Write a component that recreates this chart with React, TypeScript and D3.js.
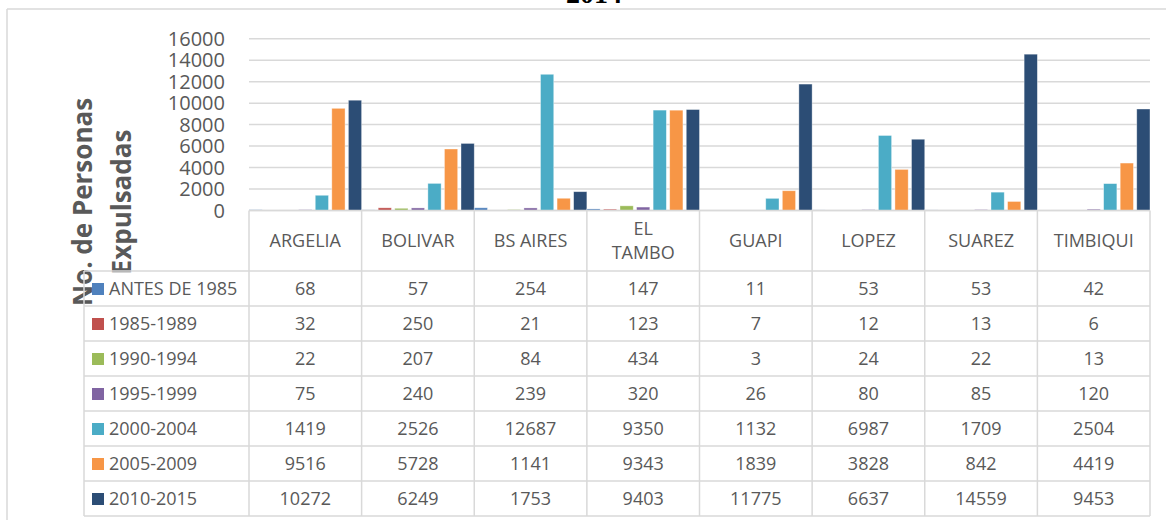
import React from "react";
import * as d3 from "d3";

const categories = ["ARGELIA", "BOLIVAR", "BS AIRES", "EL TAMBO", "GUAPI", "LOPEZ", "SUAREZ", "TIMBIQUI"];
const seriesNames = ["ANTES DE 1985", "1985-1989", "1990-1994", "1995-1999", "2000-2004", "2005-2009", "2010-2015"];
const antes1985 = [68, 57, 254, 147, 11, 53, 53, 42];
const s1985_1989 = [32, 250, 21, 123, 7, 12, 13, 6];
const s1990_1994 = [22, 207, 84, 434, 3, 24, 22, 13];
const s1995_1999 = [75, 240, 239, 320, 26, 80, 85, 120];
const s2000_2004 = [1419, 2526, 12687, 9350, 1132, 6987, 1709, 2504];
const s2005_2009 = [9516, 5728, 1141, 9343, 1839, 3828, 842, 4419];
const s2010_2015 = [10272, 6249, 1753, 9403, 11775, 6637, 14559, 9453];
const seriesColors = ["#4F81BD", "#C0504D", "#9BBB59", "#8064A2", "#4BACC6", "#F79646", "#2C4D75"];
const yTicks = [0, 2000, 4000, 6000, 8000, 10000, 12000, 14000, 16000];
const titleText = "2014";
const yTitleLines = ["No. de Personas", "Expulsadas"];

const seriesValues = [antes1985, s1985_1989, s1990_1994, s1995_1999, s2000_2004, s2005_2009, s2010_2015];

const W = 1166;
const H = 520;
const plotLeft = 249;
const plotRight = 1150;
const plotTop = 38.7;
const plotBottom = 210.5;
const legendLeft = 84;
const headerBottom = 271;
const rowH = 35;
const grid = "#D9D9D9";
const txt = "#595959";
const font = "'Open Sans', sans-serif";

export default function App() {
  const x = d3.scaleBand<string>().domain(categories).range([plotLeft, plotRight]).padding(0);
  const xs = d3
    .scaleBand<string>()
    .domain(seriesNames)
    .range([0, x.bandwidth()])
    .paddingInner(0.2)
    .paddingOuter(0);
  const y = d3.scaleLinear().domain([0, 16000]).range([plotBottom, plotTop]);
  const tableBottom = headerBottom + rowH * seriesNames.length;
  const headerLines = (c: string) => (c === "EL TAMBO" ? c.split(" ") : [c]);

  return (
    <svg
      width={W}
      height={H}
      style={{ position: "absolute", left: 0, top: 0, background: "#fff" }}
      fontFamily={font}
    >
      <rect x={0} y={0} width={W} height={H} fill="#fff" />
      {/* chart frame */}
      <line x1={7} y1={9} x2={W} y2={9} stroke={grid} strokeWidth={1.5} />
      <line x1={7} y1={9} x2={7} y2={H} stroke={grid} strokeWidth={1.5} />
      {/* title (cut off) */}
      <text
        x={594}
        y={3}
        textAnchor="middle"
        fontFamily="'Liberation Serif', serif"
        fontWeight="bold"
        fontSize={28}
        fill="#000"
      >
        {titleText}
      </text>
      {/* gridlines */}
      {yTicks.map((t) => (
        <line key={t} x1={plotLeft} x2={plotRight} y1={y(t)} y2={y(t)} stroke={grid} strokeWidth={1.5} />
      ))}
      {/* y tick labels */}
      {yTicks.map((t) => (
        <text key={"l" + t} x={225} y={y(t)} dy="0.35em" textAnchor="end" fontSize={20} fill={txt}>
          {t}
        </text>
      ))}
      {/* y title */}
      <g transform="translate(0,202)">
        {yTitleLines.map((l, i) => (
          <text
            key={l}
            transform={`translate(${92 + i * 39},0) rotate(-90)`}
            textAnchor="middle"
            fontSize={26}
            fontWeight="bold"
            fill={txt}
          >
            {l}
          </text>
        ))}
      </g>
      {/* bars */}
      {categories.map((c, ci) =>
        seriesNames.map((s, si) => {
          const v = seriesValues[si][ci];
          const bx = (x(c) as number) + (xs(s) as number);
          return (
            <rect
              key={c + s}
              x={bx}
              y={y(v)}
              width={xs.bandwidth()}
              height={plotBottom - y(v)}
              fill={seriesColors[si]}
              stroke="#fff"
              strokeOpacity={0.5}
              strokeWidth={0.75}
            />
          );
        })
      )}
      {/* table grid */}
      <g stroke={grid} strokeWidth={1.5} fill="none">
        <line x1={plotLeft} x2={plotRight} y1={plotBottom} y2={plotBottom} />
        {d3.range(seriesNames.length + 1).map((r) => (
          <line key={"h" + r} x1={legendLeft} x2={plotRight} y1={headerBottom + r * rowH} y2={headerBottom + r * rowH} />
        ))}
        <line x1={legendLeft} x2={legendLeft} y1={headerBottom} y2={tableBottom} />
        {categories.map((c) => (
          <line key={"v" + c} x1={x(c)} x2={x(c)} y1={plotBottom} y2={tableBottom} />
        ))}
        <line x1={plotRight} x2={plotRight} y1={plotBottom} y2={tableBottom} />
      </g>
      {/* header labels */}
      {categories.map((c) => {
        const lines = headerLines(c);
        const cx = (x(c) as number) + x.bandwidth() / 2;
        const cy = (plotBottom + headerBottom) / 2;
        return lines.map((l, li) => (
          <text
            key={c + l}
            x={cx}
            y={cy + (li - (lines.length - 1) / 2) * 24}
            dy="0.35em"
            textAnchor="middle"
            fontSize={18}
            fill={txt}
          >
            {l}
          </text>
        ));
      })}
      {/* legend keys + values */}
      {seriesNames.map((s, si) => {
        const cy = headerBottom + si * rowH + rowH / 2;
        return (
          <g key={"row" + s}>
            <rect x={92} y={cy - 5.5} width={12} height={12} fill={seriesColors[si]} />
            <text x={109} y={cy} dy="0.35em" fontSize={18} fill={txt}>
              {s}
            </text>
            {categories.map((c, ci) => (
              <text
                key={c}
                x={(x(c) as number) + x.bandwidth() / 2}
                y={cy}
                dy="0.35em"
                textAnchor="middle"
                fontSize={18}
                fill={txt}
              >
                {seriesValues[si][ci]}
              </text>
            ))}
          </g>
        );
      })}
    </svg>
  );
}
